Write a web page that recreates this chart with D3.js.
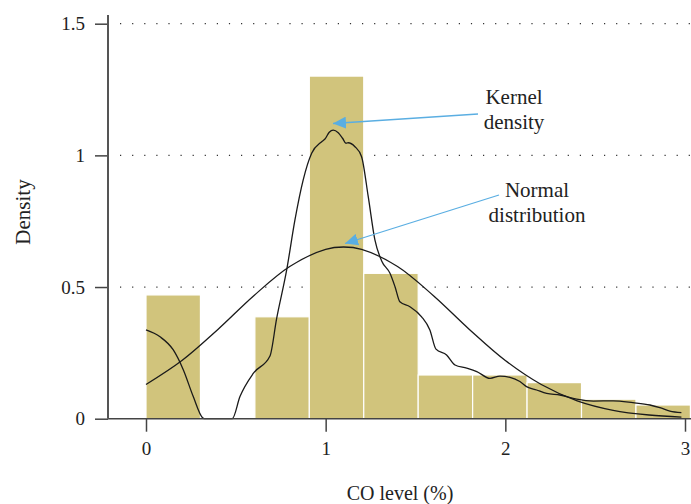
<!DOCTYPE html>
<html>
<head>
<meta charset="utf-8">
<script src="https://cdn.jsdelivr.net/npm/d3@7"></script>
<style>
  body { margin: 0; background: #fff; }
  text { font-family: "Liberation Serif", "DejaVu Serif", serif; fill: #222; }
</style>
</head>
<body>
<div id="chart"></div>
<script>
// histogram bins (CO level %) and their density
var binStart = [0, 0.303, 0.606, 0.909, 1.212, 1.515, 1.818, 2.121, 2.424, 2.727];
var binEnd   = [0.303, 0.606, 0.909, 1.212, 1.515, 1.818, 2.121, 2.424, 2.727, 3.03];
var binDensity = [0.47, 0, 0.387, 1.301, 0.552, 0.166, 0.166, 0.137, 0.074, 0.052];

// kernel density curve
var kernelX = [0, 0.078, 0.152, 0.208, 0.263, 0.315, 0.33, 0.48, 0.523, 0.597, 0.69, 0.727, 0.783, 0.829, 0.875, 0.922, 0.978, 0.996, 1.02, 1.042, 1.07, 1.094, 1.113, 1.125, 1.163, 1.2, 1.237, 1.274, 1.311, 1.358, 1.386, 1.413, 1.469, 1.534, 1.58, 1.614, 1.673, 1.72, 1.785, 1.841, 1.915, 1.97, 2.026, 2.081, 2.118, 2.174, 2.23, 2.304, 2.397, 2.49, 2.6, 2.71, 2.805, 2.86, 2.916, 2.98];
var kernelY = [0.337, 0.311, 0.261, 0.185, 0.084, 0.004, 0, 0, 0.084, 0.172, 0.238, 0.38, 0.565, 0.755, 0.907, 1.008, 1.052, 1.062, 1.088, 1.096, 1.086, 1.065, 1.046, 1.048, 1.033, 0.995, 0.843, 0.679, 0.6, 0.552, 0.501, 0.444, 0.425, 0.387, 0.337, 0.264, 0.242, 0.204, 0.192, 0.179, 0.153, 0.162, 0.157, 0.141, 0.122, 0.109, 0.096, 0.09, 0.074, 0.067, 0.068, 0.061, 0.052, 0.042, 0.029, 0.023];

// normal distribution curve
var normalX = [0, 0.2, 0.4, 0.6, 0.8, 1.0, 1.1, 1.2, 1.4, 1.6, 1.8, 2.0, 2.2, 2.4, 2.6, 2.8, 2.98];
var normalY = [0.13, 0.221, 0.339, 0.467, 0.578, 0.643, 0.652, 0.643, 0.578, 0.467, 0.339, 0.221, 0.13, 0.068, 0.032, 0.014, 0.006];

var xTicks = [0, 1, 2, 3];
var yTicks = [0, 0.5, 1, 1.5];

var width = 691, height = 504;

var svg = d3.select("#chart")
            .append("svg")
            .attr("width", width)
            .attr("height", height);

var x = d3.scaleLinear().domain([0, 3]).range([146, 685]);
var y = d3.scaleLinear().domain([0, 1.5]).range([418.7, 23.7]);

// dotted grid lines
svg.selectAll("line.grid")
    .data(yTicks.filter(function(d){ return d > 0; }))
    .enter().append("line")
    .attr("class", "grid")
    .attr("x1", 120).attr("x2", width)
    .attr("y1", function(d){ return y(d); })
    .attr("y2", function(d){ return y(d); })
    .attr("stroke", "#333")
    .attr("stroke-width", 1.2)
    .attr("stroke-dasharray", "1.2,10.9");

// histogram bars
svg.selectAll("rect.bar")
    .data(binDensity)
    .enter().append("rect")
    .attr("class", "bar")
    .attr("x", function(d, i){ return x(binStart[i]); })
    .attr("width", function(d, i){ return x(binEnd[i]) - x(binStart[i]); })
    .attr("y", function(d){ return y(d); })
    .attr("height", function(d){ return y(0) - y(d); })
    .attr("fill", "#d1c47c")
    .attr("stroke", "#fff")
    .attr("stroke-width", function(d){ return d > 0 ? 1.2 : 0; });

// curves
var line = d3.line()
    .x(function(d){ return x(d[0]); })
    .y(function(d){ return y(d[1]); })
    .curve(d3.curveMonotoneX);

svg.append("path")
    .datum(kernelX.map(function(v, i){ return [v, kernelY[i]]; }))
    .attr("d", line)
    .attr("fill", "none")
    .attr("stroke", "#1a1a1a")
    .attr("stroke-width", 1.3);

svg.append("path")
    .datum(normalX.map(function(v, i){ return [v, normalY[i]]; }))
    .attr("d", line.curve(d3.curveCatmullRom))
    .attr("fill", "none")
    .attr("stroke", "#1a1a1a")
    .attr("stroke-width", 1.3);

// axes
var xAxis = svg.append("g")
    .attr("transform", "translate(0," + y(0) + ")")
    .call(d3.axisBottom(x).tickValues(xTicks).tickSize(13).tickPadding(10).tickFormat(d3.format("d")));
var yAxis = svg.append("g")
    .attr("transform", "translate(108,0)")
    .call(d3.axisLeft(y).tickValues(yTicks).tickSize(13).tickPadding(10).tickFormat(function(d){ return d === 0 ? "0" : String(d); }));

[xAxis, yAxis].forEach(function(g){
    g.select(".domain").remove();
    g.selectAll(".tick line").attr("stroke", "#444").attr("stroke-width", 1.5);
    g.selectAll(".tick text")
        .attr("font-size", 19)
        .attr("font-family", "Liberation Serif, serif")
        .attr("fill", "#222");
});

svg.append("line")
    .attr("x1", 108).attr("x2", width)
    .attr("y1", y(0)).attr("y2", y(0))
    .attr("stroke", "#444").attr("stroke-width", 1.5);
svg.append("line")
    .attr("x1", 108).attr("x2", 108)
    .attr("y1", 15).attr("y2", y(0))
    .attr("stroke", "#555").attr("stroke-width", 2);

// axis titles
svg.append("text")
    .attr("x", 400).attr("y", 500)
    .attr("text-anchor", "middle")
    .attr("font-size", 20)
    .text("CO level (%)");
svg.append("text")
    .attr("transform", "translate(30,212) rotate(-90)")
    .attr("text-anchor", "middle")
    .attr("font-size", 21)
    .text("Density");

// annotations
var defs = svg.append("defs");
defs.append("marker")
    .attr("id", "arrow")
    .attr("viewBox", "0 0 13 12")
    .attr("refX", 13).attr("refY", 6)
    .attr("markerWidth", 13).attr("markerHeight", 12)
    .attr("markerUnits", "userSpaceOnUse")
    .attr("orient", "auto")
    .append("path")
    .attr("d", "M0,0 L13,6 L0,12 Z")
    .attr("fill", "#5aaee2");

var notes = [
    {lines: ["Kernel", "density"], tx: 514, ty: 104, from: [478, 114], to: [333, 123.5]},
    {lines: ["Normal", "distribution"], tx: 537, ty: 197, from: [499, 195], to: [345, 243.5]}
];

notes.forEach(function(n){
    svg.append("line")
        .attr("x1", n.from[0]).attr("y1", n.from[1])
        .attr("x2", n.to[0]).attr("y2", n.to[1])
        .attr("stroke", "#5aaee2")
        .attr("stroke-width", 1.3)
        .attr("marker-end", "url(#arrow)");
    var t = svg.append("text")
        .attr("text-anchor", "middle")
        .attr("font-size", 21);
    n.lines.forEach(function(s, i){
        t.append("tspan").attr("x", n.tx).attr("y", n.ty + i * 24.5).text(s);
    });
});
</script>
</body>
</html>
